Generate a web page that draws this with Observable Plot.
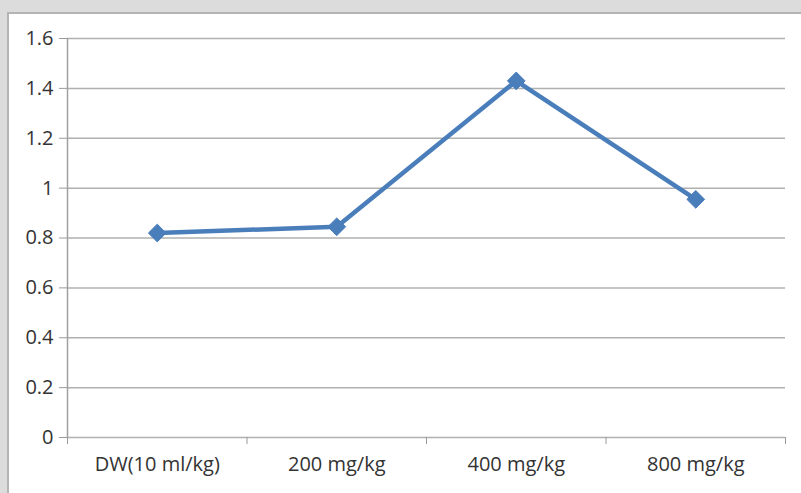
<!DOCTYPE html>
<html>
<head>
<meta charset="utf-8">
<script src="https://cdn.jsdelivr.net/npm/d3@7"></script>
<script src="https://cdn.jsdelivr.net/npm/@observablehq/plot@0.6"></script>
<style>
  html, body { margin: 0; padding: 0; }
  #wrap { position: relative; width: 801px; height: 493px; background: #dcdcdc; overflow: hidden; }
  #panel { position: absolute; left: 7px; top: 12px; right: 0; bottom: 0; background: #fff;
           border-left: 2px solid #b4b4b4; border-top: 2px solid #b4b4b4; }
  #chart { position: absolute; left: 0; top: 0; }
</style>
</head>
<body>
<div id="wrap"><div id="panel"></div><div id="chart"></div></div>
<script>
const categories = ["DW(10 ml/kg)", "200 mg/kg", "400 mg/kg", "800 mg/kg"];
const values = [0.82, 0.845, 1.43, 0.955];
const yTicks = [0, 0.2, 0.4, 0.6, 0.8, 1, 1.2, 1.4, 1.6];

const data = categories.map((c, i) => ({cat: c, pos: i + 0.5, value: values[i]}));
const boundaries = d3.range(categories.length + 1);

const fontFamily = "'Open Sans', sans-serif";
const textColor = "#333333";
const blue = "#4a7ebb";

const plot = Plot.plot({
  width: 801,
  height: 493,
  marginLeft: 67,
  marginRight: 16,
  marginTop: 38,
  marginBottom: 56,
  style: {background: "transparent", fontFamily, fontSize: "20px", color: textColor, overflow: "visible"},
  x: {type: "linear", domain: [0, categories.length], label: null},
  y: {domain: [0, 1.6], label: null},
  marks: [
    Plot.gridY(yTicks, {stroke: "#b0b0b0", strokeOpacity: 1, strokeWidth: 1.5}),
    Plot.axisY(yTicks, {tickSize: 8, tickPadding: 6, stroke: "#9a9a9a", tickFormat: d => String(+d.toFixed(1)), fontSize: 20, fill: textColor, label: null}),
    Plot.ruleX([0], {stroke: "#a0a0a0", strokeWidth: 1.5}),
    Plot.axisX(boundaries, {tickSize: 7, stroke: "#9a9a9a", tickFormat: () => "", label: null}),
    Plot.axisX(data.map(d => d.pos), {tickSize: 0, tickPadding: 19, tickFormat: (d, i) => categories[i], fontSize: 20, fill: textColor, label: null}),
    Plot.line(data, {x: "pos", y: "value", stroke: blue, strokeWidth: 4.5}),
    Plot.dot(data, {x: "pos", y: "value", symbol: "diamond2", r: 8, fill: blue, stroke: blue, strokeWidth: 1})
  ]
});
document.getElementById("chart").appendChild(plot);
</script>
</body>
</html>
